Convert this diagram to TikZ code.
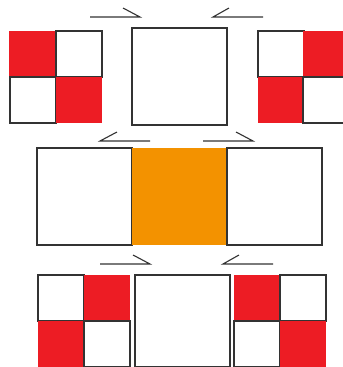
\documentclass[tikz,border=0pt]{standalone}
\usetikzlibrary{positioning}
\definecolor{redc}{HTML}{ED1C24}
\definecolor{orangec}{HTML}{F39200}
\definecolor{linec}{HTML}{333333}
\begin{document}
\begin{tikzpicture}[x=1bp,y=-1bp,
  wcell/.style={draw=linec,line width=1.1bp,fill=white,minimum width=46bp,minimum height=46bp,inner sep=0pt,outer sep=0pt,anchor=north west},
  rcell/.style={fill=redc,minimum width=46bp,minimum height=46bp,inner sep=0pt,outer sep=0pt,anchor=north west},
  bigbox/.style={draw=linec,line width=1.1bp,fill=white,minimum width=95bp,minimum height=96bp,inner sep=0pt,outer sep=0pt,anchor=north west},
  harp/.style={draw=linec,line width=1.1bp}]
\useasboundingbox (0,0) rectangle (343,367);
% top row left grid
\node[rcell] (tl1) at (9,31) {};
\node[wcell] (tl2) at (56,31) {};
\node[wcell] (tl3) at (10,77) {};
\node[rcell] (tl4) at (56,77) {};
% top center
\node[bigbox,minimum height=97bp] (tc) at (132,28) {};
% top right grid
\node[wcell] (tr1) at (258,31) {};
\node[rcell] (tr2) at (303,31) {};
\node[rcell] (tr3) at (258,77) {};
\node[wcell] (tr4) at (303,77) {};
% top arrows
\coordinate (a1s) at (90,17); \coordinate (a1e) at (140,17); \coordinate (a1b) at (123,8);
\draw[harp] (a1s) -- (a1e) -- (a1b);
\coordinate (a2s) at (263,17); \coordinate (a2e) at (213,17); \coordinate (a2b) at (229,8);
\draw[harp] (a2s) -- (a2e) -- (a2b);
% middle arrows
\coordinate (a3s) at (150,141); \coordinate (a3e) at (100,141); \coordinate (a3b) at (117,132);
\draw[harp] (a3s) -- (a3e) -- (a3b);
\coordinate (a4s) at (203,141); \coordinate (a4e) at (253,141); \coordinate (a4b) at (236,132);
\draw[harp] (a4s) -- (a4e) -- (a4b);
% middle row
\node[bigbox,minimum height=97bp] (ml) at (37,148) {};
\node[bigbox,minimum height=97bp,draw=none,fill=orangec] (mc) at (132,148) {};
\node[bigbox,minimum height=97bp] (mr) at (227,148) {};
% bottom arrows
\coordinate (a5s) at (100,264); \coordinate (a5e) at (150,264); \coordinate (a5b) at (133,255);
\draw[harp] (a5s) -- (a5e) -- (a5b);
\coordinate (a6s) at (273,264); \coordinate (a6e) at (223,264); \coordinate (a6b) at (239,255);
\draw[harp] (a6s) -- (a6e) -- (a6b);
% bottom left grid
\node[wcell] (bl1) at (38,275) {};
\node[rcell] (bl2) at (84,275) {};
\node[rcell] (bl3) at (38,321) {};
\node[wcell] (bl4) at (84,321) {};
% bottom center
\node[bigbox,minimum height=92bp] (bc) at (135,275) {};
% bottom right grid
\node[rcell] (br1) at (234,275) {};
\node[wcell] (br2) at (280,275) {};
\node[wcell] (br3) at (234,321) {};
\node[rcell] (br4) at (280,321) {};
\end{tikzpicture}
\end{document}
